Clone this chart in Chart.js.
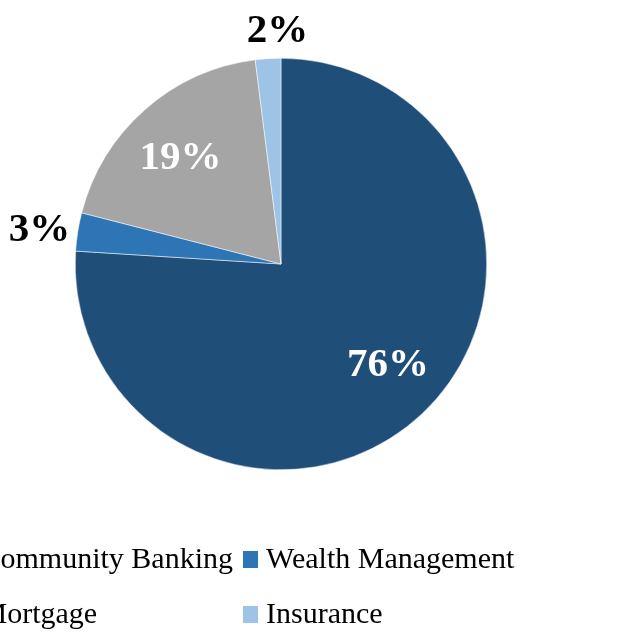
<!DOCTYPE html>
<html>
<head>
<meta charset="utf-8">
<script src="https://cdn.jsdelivr.net/npm/chart.js@4.4.0/dist/chart.umd.min.js"></script>
<style>
  html, body { margin: 0; padding: 0; background: #fff; }
  #wrap { width: 625px; height: 634px; }
</style>
</head>
<body>
<div id="wrap"><canvas id="grafica"></canvas></div>
<script>
// Datos del gráfico
const segmentos = ['Community Banking', 'Wealth Management', 'Mortgage', 'Insurance'];
const porcentajes = [76, 3, 19, 2];
const colores = ['#1F4E79', '#2E75B6', '#A5A5A5', '#9DC3E6'];
const colorEtiqueta = ['#ffffff', '#000000', '#ffffff', '#000000'];

const fuente = '"Liberation Serif", "Times New Roman", serif';

// Pequeños ajustes de las etiquetas (px), como las coloca Excel
const ajusteX = [7, 3, -4, 11];
const ajusteY = [-8, 2, 1, -5];

// Etiquetas de porcentaje (dentro o fuera de la rebanada)
const etiquetasPlugin = {
    id: 'etiquetas',
    afterDatasetsDraw(chart) {
        const ctx = chart.ctx;
        const arcos = chart.getDatasetMeta(0).data;
        ctx.save();
        ctx.font = 'bold 41px ' + fuente;
        ctx.textAlign = 'center';
        ctx.textBaseline = 'alphabetic';
        arcos.forEach((arco, i) => {
            const p = arco.getProps(['x', 'y', 'startAngle', 'endAngle', 'outerRadius'], true);
            const medio = (p.startAngle + p.endAngle) / 2;
            const c = Math.cos(medio), s = Math.sin(medio);
            const texto = porcentajes[i] + '%';
            let r;
            if (porcentajes[i] < 5) {
                // fuera: la caja queda separada del borde
                const w = ctx.measureText(texto).width;
                r = p.outerRadius + 9 + Math.abs(c) * w / 2 + Math.abs(s) * 15;
            } else {
                r = p.outerRadius * 0.71;
            }
            const x = p.x + c * r + ajusteX[i];
            const y = p.y + s * r + ajusteY[i];
            ctx.fillStyle = colorEtiqueta[i];
            ctx.fillText(texto, x, y + 14);
        });
        ctx.restore();
    }
};

// Leyenda en dos columnas, recortada a la izquierda como en el original
const leyendaPlugin = {
    id: 'leyenda',
    afterDraw(chart) {
        const ctx = chart.ctx;
        ctx.save();
        ctx.font = '30px ' + fuente;
        ctx.textBaseline = 'alphabetic';
        const filas = [568, 623];
        const col2 = 243;
        const col1Texto = 233 - ctx.measureText(segmentos[0]).width;
        segmentos.forEach((nombre, i) => {
            const fila = filas[Math.floor(i / 2)];
            const texto = i % 2 === 0 ? col1Texto : col2 + 23;
            const cuadro = texto - 23;
            ctx.fillStyle = colores[i];
            ctx.fillRect(cuadro, fila - 17, 15, 17);
            ctx.fillStyle = '#000000';
            ctx.fillText(nombre, texto, fila);
        });
        ctx.restore();
    }
};

new Chart(document.getElementById('grafica'), {
    type: 'pie',
    data: {
        labels: segmentos,
        datasets: [{
            data: porcentajes,
            backgroundColor: colores,
            borderColor: '#ffffff',
            borderWidth: 0.5
        }]
    },
    options: {
        responsive: true,
        maintainAspectRatio: false,
        animation: false,
        layout: { padding: { left: 75, right: 138, top: 58, bottom: 164 } },
        plugins: {
            legend: { display: false },
            tooltip: { enabled: false }
        }
    },
    plugins: [etiquetasPlugin, leyendaPlugin]
});
</script>
</body>
</html>
